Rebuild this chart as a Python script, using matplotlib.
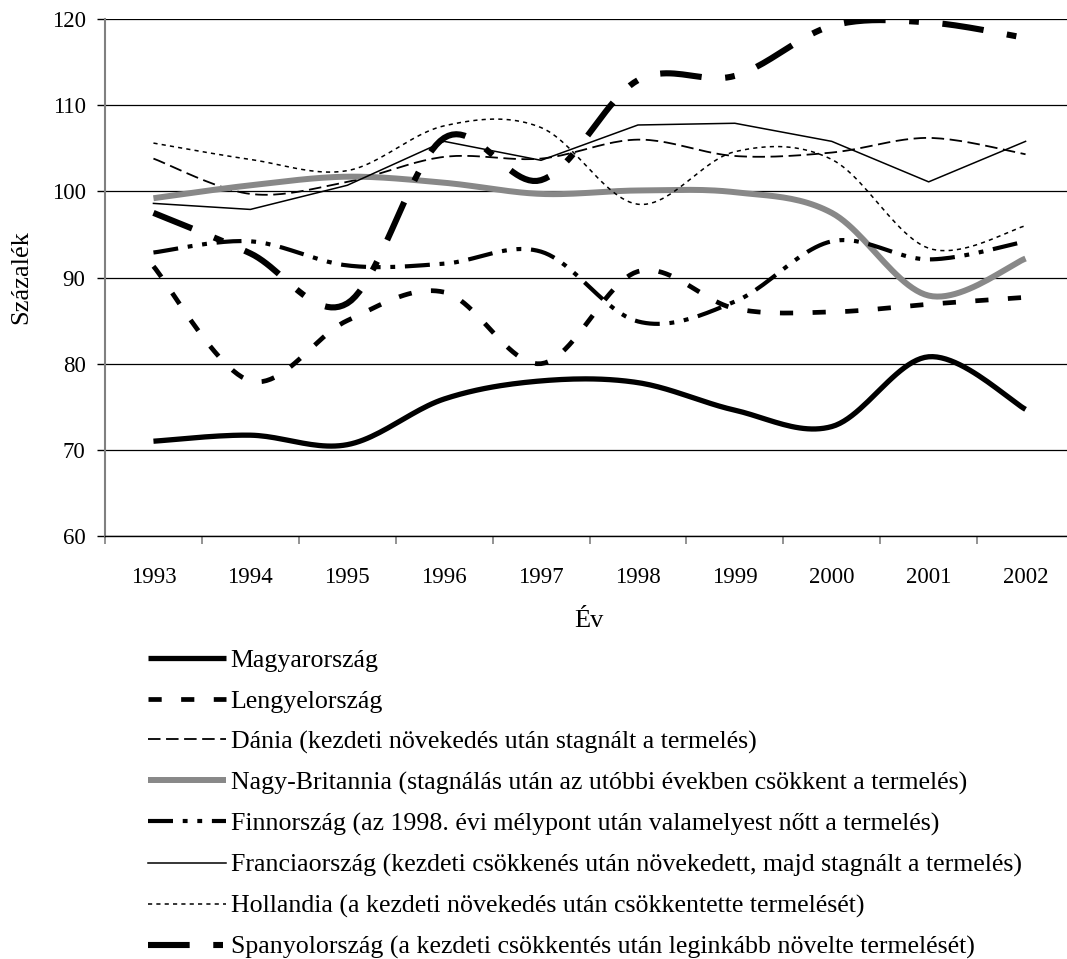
import numpy as np
import matplotlib
matplotlib.use("Agg")
import matplotlib.pyplot as plt

plt.rcParams['font.family'] = ['Liberation Serif', 'DejaVu Serif']
plt.rcParams['lines.scale_dashes'] = False

# data (index, 1993 = 100 ish)
years = ['1993', '1994', '1995', '1996', '1997', '1998', '1999', '2000', '2001', '2002']
magyar = [71.0, 71.7, 70.6, 75.9, 78.0, 77.8, 74.6, 72.7, 80.8, 74.7]
lengyel = [91.3, 78.0, 85.0, 88.3, 80.0, 90.7, 86.4, 86.0, 86.9, 87.7]
dania = [103.8, 99.7, 101.1, 104.0, 103.8, 106.0, 104.1, 104.5, 106.2, 104.3]
britannia = [99.2, 100.7, 101.7, 101.0, 99.7, 100.1, 99.9, 97.5, 87.9, 92.2]
finn = [92.9, 94.2, 91.4, 91.6, 93.0, 84.9, 87.2, 94.2, 92.1, 94.2]
francia = [98.6, 97.9, 100.7, 105.8, 103.6, 107.7, 107.9, 105.8, 101.1, 105.8]
hollandia = [105.6, 103.7, 102.4, 107.6, 107.4, 98.5, 104.6, 103.7, 93.4, 96.0]
spanyol = [97.5, 92.8, 87.0, 106.2, 101.3, 112.9, 113.4, 119.2, 119.6, 117.8]

labels = ['Magyarország',
          'Lengyelország',
          'Dánia (kezdeti növekedés után stagnált a termelés)',
          'Nagy-Britannia (stagnálás után az utóbbi években csökkent a termelés)',
          'Finnország (az 1998. évi mélypont után valamelyest nőtt a termelés)',
          'Franciaország (kezdeti csökkenés után növekedett, majd stagnált a termelés)',
          'Hollandia (a kezdeti növekedés után csökkentette termelését)',
          'Spanyolország (a kezdeti csökkentés után leginkább növelte termelését)']


# Excel style smoothing: bezier through the points, control points from neighbours
def smooth(ys, n=25):
    xs = np.arange(len(ys), dtype=float)
    ys = np.array(ys, dtype=float)
    outX, outY = [], []
    for i in range(len(xs) - 1):
        a = i - 1 if i > 0 else i
        d = i + 2 if i + 2 < len(xs) else i + 1
        c1x = xs[i] + (xs[i + 1] - xs[a]) / 6
        c1y = ys[i] + (ys[i + 1] - ys[a]) / 6
        c2x = xs[i + 1] - (xs[d] - xs[i]) / 6
        c2y = ys[i + 1] - (ys[d] - ys[i]) / 6
        t = np.linspace(0, 1, n)
        bx = (1-t)**3*xs[i] + 3*(1-t)**2*t*c1x + 3*(1-t)*t**2*c2x + t**3*xs[i+1]
        by = (1-t)**3*ys[i] + 3*(1-t)**2*t*c1y + 3*(1-t)*t**2*c2y + t**3*ys[i+1]
        if i > 0:
            bx, by = bx[1:], by[1:]
        outX.extend(bx)
        outY.extend(by)
    return outX, outY


fig = plt.figure(figsize=(10.67, 9.59), dpi=100)
ax = fig.add_axes([105/1067, 423/959, 969/1067, 517/959])

x, y = smooth(magyar)
ax.plot(x, y, color='black', lw=3.8, solid_capstyle='butt', label=labels[0])
x, y = smooth(lengyel)
ax.plot(x, y, color='black', lw=3.4, dashes=(9.5, 14), label=labels[1])
x, y = smooth(dania)
ax.plot(x, y, color='black', lw=1.3, dashes=(9, 4), label=labels[2])
x, y = smooth(britannia)
ax.plot(x, y, color='#888888', lw=4.3, solid_capstyle='butt', label=labels[3])
x, y = smooth(finn)
ax.plot(x, y, color='black', lw=3.0, dashes=(18, 7, 3.5, 7, 3.5, 7), label=labels[4])
ax.plot(range(len(francia)), francia, color='black', lw=1.1, label=labels[5])
x, y = smooth(hollandia)
ax.plot(x, y, color='black', lw=1.1, dashes=(3, 3), label=labels[6])
x, y = smooth(spanyol)
ax.plot(x, y, color='black', lw=4.4, dashes=(30, 17, 7, 17), label=labels[7])

ax.set_xlim(-0.5, 9.5)
ax.set_ylim(60, 120)
ax.set_yticks(range(60, 121, 10))
ax.yaxis.grid(True, color='black', lw=0.9)
ax.set_axisbelow(True)

ax.set_xticks(range(len(years)))
ax.set_xticklabels(years, fontsize=16.5)
ax.set_xticks(np.arange(-0.5, 10, 1), minor=True)
ax.tick_params(axis='x', which='major', length=0, pad=22)
ax.tick_params(axis='x', which='minor', length=6, color='#808080', width=1.2)
ax.tick_params(axis='y', length=6, color='black', width=1, labelsize=16.5, pad=8)

ax.spines['top'].set_visible(False)
ax.spines['right'].set_visible(False)
ax.spines['left'].set_color('#808080')
ax.spines['left'].set_linewidth(1.5)
ax.spines['bottom'].set_color('black')
ax.spines['bottom'].set_linewidth(1.0)

fig.text(21/1067, 1 - 277/959, 'Százalék', rotation=90, ha='center', va='center', fontsize=19)
fig.text(589/1067, 1 - 621/959, 'Év', ha='center', va='center', fontsize=19)

fig.legend(loc='upper left', bbox_to_anchor=(148/1067, 1 - 649/959), frameon=False,
           fontsize=18.6, handlelength=3.0, handletextpad=0.2, labelspacing=0.68,
           borderpad=0, borderaxespad=0)

fig.savefig('out.png', dpi=100)
